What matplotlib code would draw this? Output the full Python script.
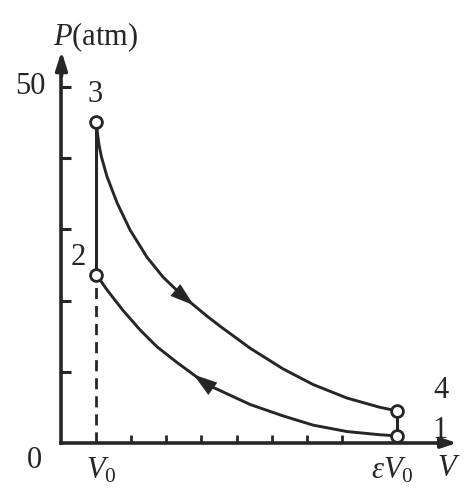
import matplotlib
matplotlib.use("Agg")
import matplotlib.pyplot as plt
import numpy as np

plt.rcParams['font.family'] = ['Liberation Serif', 'DejaVu Serif']
plt.rcParams['mathtext.fontset'] = 'custom'
plt.rcParams['mathtext.rm'] = 'Liberation Serif'
plt.rcParams['mathtext.it'] = 'Liberation Serif:italic'

# values (V in units of V0, P in atm)
v_upper = [1.0, 1.03, 1.07, 1.14, 1.30, 1.59, 1.96, 2.44, 2.90, 3.47, 4.16, 4.53, 5.39, 6.33, 7.19, 8.16, 9.10, 9.59]
p_upper = [45.0, 43.4, 41.9, 40.2, 37.4, 33.7, 29.9, 26.1, 23.3, 20.6, 17.8, 16.4, 13.3, 10.4, 8.2, 6.3, 5.0, 4.5]
v_lower = [1.0, 1.30, 1.76, 2.24, 2.73, 3.30, 4.16, 5.39, 6.33, 7.19, 8.16, 9.10, 9.59]
p_lower = [23.6, 21.5, 18.6, 15.9, 13.5, 11.3, 8.2, 5.4, 3.8, 2.5, 1.6, 1.15, 1.0]
state_labels = ['1', '2', '3', '4']
state_v = [9.59, 1.0, 1.0, 9.59]
state_p = [1.0, 23.6, 45.0, 4.5]
p_ticks = [10, 20, 30, 40, 50]
v_ticks = [2, 3, 4, 5, 6, 7, 8]

ink = '#262626'

fig = plt.figure(figsize=(4.73, 4.99), dpi=100)
ax = fig.add_axes([0, 0, 1, 1])
ax.set_xlim(-1.757, 11.757)
ax.set_ylim(-7.87, 62.2)

# axes as spines through the origin
for s in ['top', 'right']:
    ax.spines[s].set_visible(False)
ax.spines['left'].set_position(('data', 0))
ax.spines['bottom'].set_position(('data', 0))
ax.spines['left'].set_bounds(0, 52)
ax.spines['bottom'].set_bounds(0, 10.9)
for s in ['left', 'bottom']:
    ax.spines[s].set_linewidth(2.6)
    ax.spines[s].set_color(ink)
    ax.spines[s].set_capstyle('projecting')
ax.set_yticks(p_ticks)
ax.set_xticks(v_ticks)
ax.set_yticklabels([])
ax.set_xticklabels([])
ax.tick_params(axis='y', direction='in', length=7, width=2.2, color=ink)
ax.tick_params(axis='x', direction='in', length=5.5, width=2.0, color=ink)

# axis arrow heads
ax.annotate('', xy=(0, 55.0), xytext=(0, 51.5),
            arrowprops=dict(arrowstyle='-|>,head_length=1.1,head_width=0.35',
                            color=ink, lw=2.6, shrinkA=0, shrinkB=0))
ax.annotate('', xy=(11.3, 0), xytext=(10.8, 0),
            arrowprops=dict(arrowstyle='-|>,head_length=0.9,head_width=0.3',
                            color=ink, lw=2.6, shrinkA=0, shrinkB=0))

# process curves
ax.plot(v_upper, p_upper, color=ink, lw=2.1, solid_capstyle='round',
        solid_joinstyle='round', zorder=3)
ax.plot(v_lower, p_lower, color=ink, lw=2.1, solid_capstyle='round',
        solid_joinstyle='round', zorder=3)
# isochores
ax.plot([state_v[1], state_v[2]], [state_p[1], state_p[2]], color=ink, lw=2.2, zorder=3)
ax.plot([state_v[0], state_v[3]], [state_p[0], state_p[3]], color=ink, lw=2.2, zorder=3)
ax.plot([state_v[1], state_v[1]], [0, state_p[1]], color=ink, lw=2.0,
        dashes=(4, 2.5), zorder=3)

# direction arrows on the curves
def curve_arrow(v, p, i, j):
    d = np.array([v[j] - v[i], p[j] - p[i]])
    tip = np.array([v[i], p[i]]) + 0.45 * d
    tail = tip - 0.05 * d
    ax.annotate('', xy=tip, xytext=tail,
                arrowprops=dict(arrowstyle='-|>,head_length=1.0,head_width=0.32',
                                color=ink, lw=0.1, shrinkA=0, shrinkB=0,
                                mutation_scale=17), zorder=4)

curve_arrow(v_upper, p_upper, 9, 10)
curve_arrow(v_lower, p_lower, 6, 5)

# state points
ax.plot(state_v, state_p, 'o', ms=8.5, mfc='white', mec=ink, mew=2.0, zorder=5)

# text
fs = 22
ax.text(-0.24, 55.9, '$P$(atm)', fontsize=fs, color=ink, ha='left', va='baseline')
ax.text(-0.47, 50, '50', fontsize=fs, color=ink, ha='right', va='center')
ax.text(-0.76, -2.4, '0', fontsize=fs, color=ink, ha='center', va='center')
label_pos = {'1': (10.81, 1.8), '2': (0.47, 26.1), '3': (0.97, 49.0), '4': (10.84, 7.3)}
for lab in state_labels:
    x, y = label_pos[lab]
    ax.text(x, y, lab, fontsize=fs, color=ink, ha='center', va='center')
ax.text(1.15, -3.9, r'$V_{\mathit{0}}$', fontsize=fs, color=ink, ha='center', va='center')
ax.text(9.45, -3.9, r'$\varepsilon V_{\mathit{0}}$', fontsize=fs, color=ink, ha='center', va='center')
ax.text(11.06, -3.6, r'$V$', fontsize=fs, color=ink, ha='center', va='center')

fig.savefig('out.png', dpi=100, facecolor='white')
